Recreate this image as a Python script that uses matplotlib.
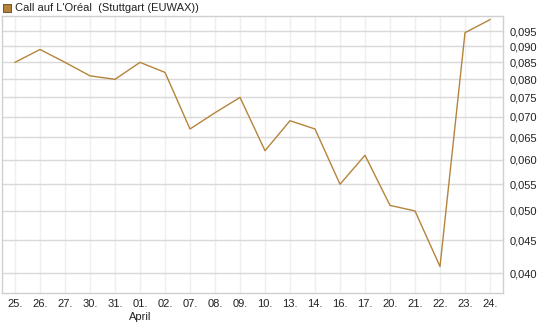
import matplotlib
matplotlib.use("Agg")
import matplotlib.pyplot as plt
from matplotlib.ticker import FixedLocator, NullLocator, NullFormatter
from matplotlib.patches import Rectangle

plt.rcParams['font.family'] = ['Liberation Sans', 'DejaVu Sans']

dates = ["25.", "26.", "27.", "30.", "31.", "01.", "02.", "07.", "08.", "09.",
         "10.", "13.", "14.", "16.", "17.", "20.", "21.", "22.", "23.", "24."]
values = [0.085, 0.089, 0.085, 0.081, 0.080, 0.085, 0.082, 0.067, 0.071, 0.075,
          0.062, 0.069, 0.067, 0.055, 0.061, 0.051, 0.050, 0.041, 0.0945, 0.099]
yticks = [0.040, 0.045, 0.050, 0.055, 0.060, 0.065, 0.070, 0.075, 0.080, 0.085, 0.090, 0.095]
ytick_labels = ["0,040", "0,045", "0,050", "0,055", "0,060", "0,065", "0,070",
                "0,075", "0,080", "0,085", "0,090", "0,095"]
month_label = "April"
month_index = 5
legend_text = "Call auf L'Oréal  (Stuttgart (EUWAX))"

W, H = 545, 327
fig = plt.figure(figsize=(W / 100, H / 100), dpi=100)
l, r, t, b = 2, 503, 16, 293
ax = fig.add_axes([l / W, 1 - b / H, (r - l) / W, (b - t) / H])

line_color = "#B5843C"
x = list(range(len(dates)))
ax.plot(x, values, color=line_color, lw=1.0)

ax.set_yscale("log")
ax.set_ylim(0.0373, 0.1003)
ax.set_xlim(-0.52, len(dates) - 1 + 0.52)

ax.yaxis.set_major_locator(FixedLocator(yticks))
ax.yaxis.set_minor_locator(NullLocator())
ax.yaxis.set_minor_formatter(NullFormatter())
ax.set_yticklabels(ytick_labels)
ax.yaxis.tick_right()
ax.tick_params(axis="y", length=0, pad=5, labelsize=8, labelcolor="#222222")

ax.set_xticks(x)
ax.set_xticklabels(dates)
ax.tick_params(axis="x", length=0, pad=4, labelsize=8, labelcolor="#222222")

ax.grid(axis="y", color="#d9d9d9", lw=1.0)
ax.grid(axis="x", color="#efefef", lw=1.0)
ax.set_axisbelow(True)
for s in ax.spines.values():
    s.set_color("#d0d0d0")
    s.set_linewidth(1.0)

ax.text(month_index, -0.068, month_label, transform=ax.get_xaxis_transform(),
        ha="center", va="top", fontsize=8, color="#222222")

fig.patches.append(Rectangle((3 / W, 1 - 12 / H), 8 / W, 8 / H, transform=fig.transFigure,
                             facecolor=line_color, edgecolor="#5a4020", lw=0.6))
fig.text(15 / W, 1 - 8 / H, legend_text, ha="left", va="center", fontsize=8, color="#222222")

fig.savefig("out.png", dpi=100)
